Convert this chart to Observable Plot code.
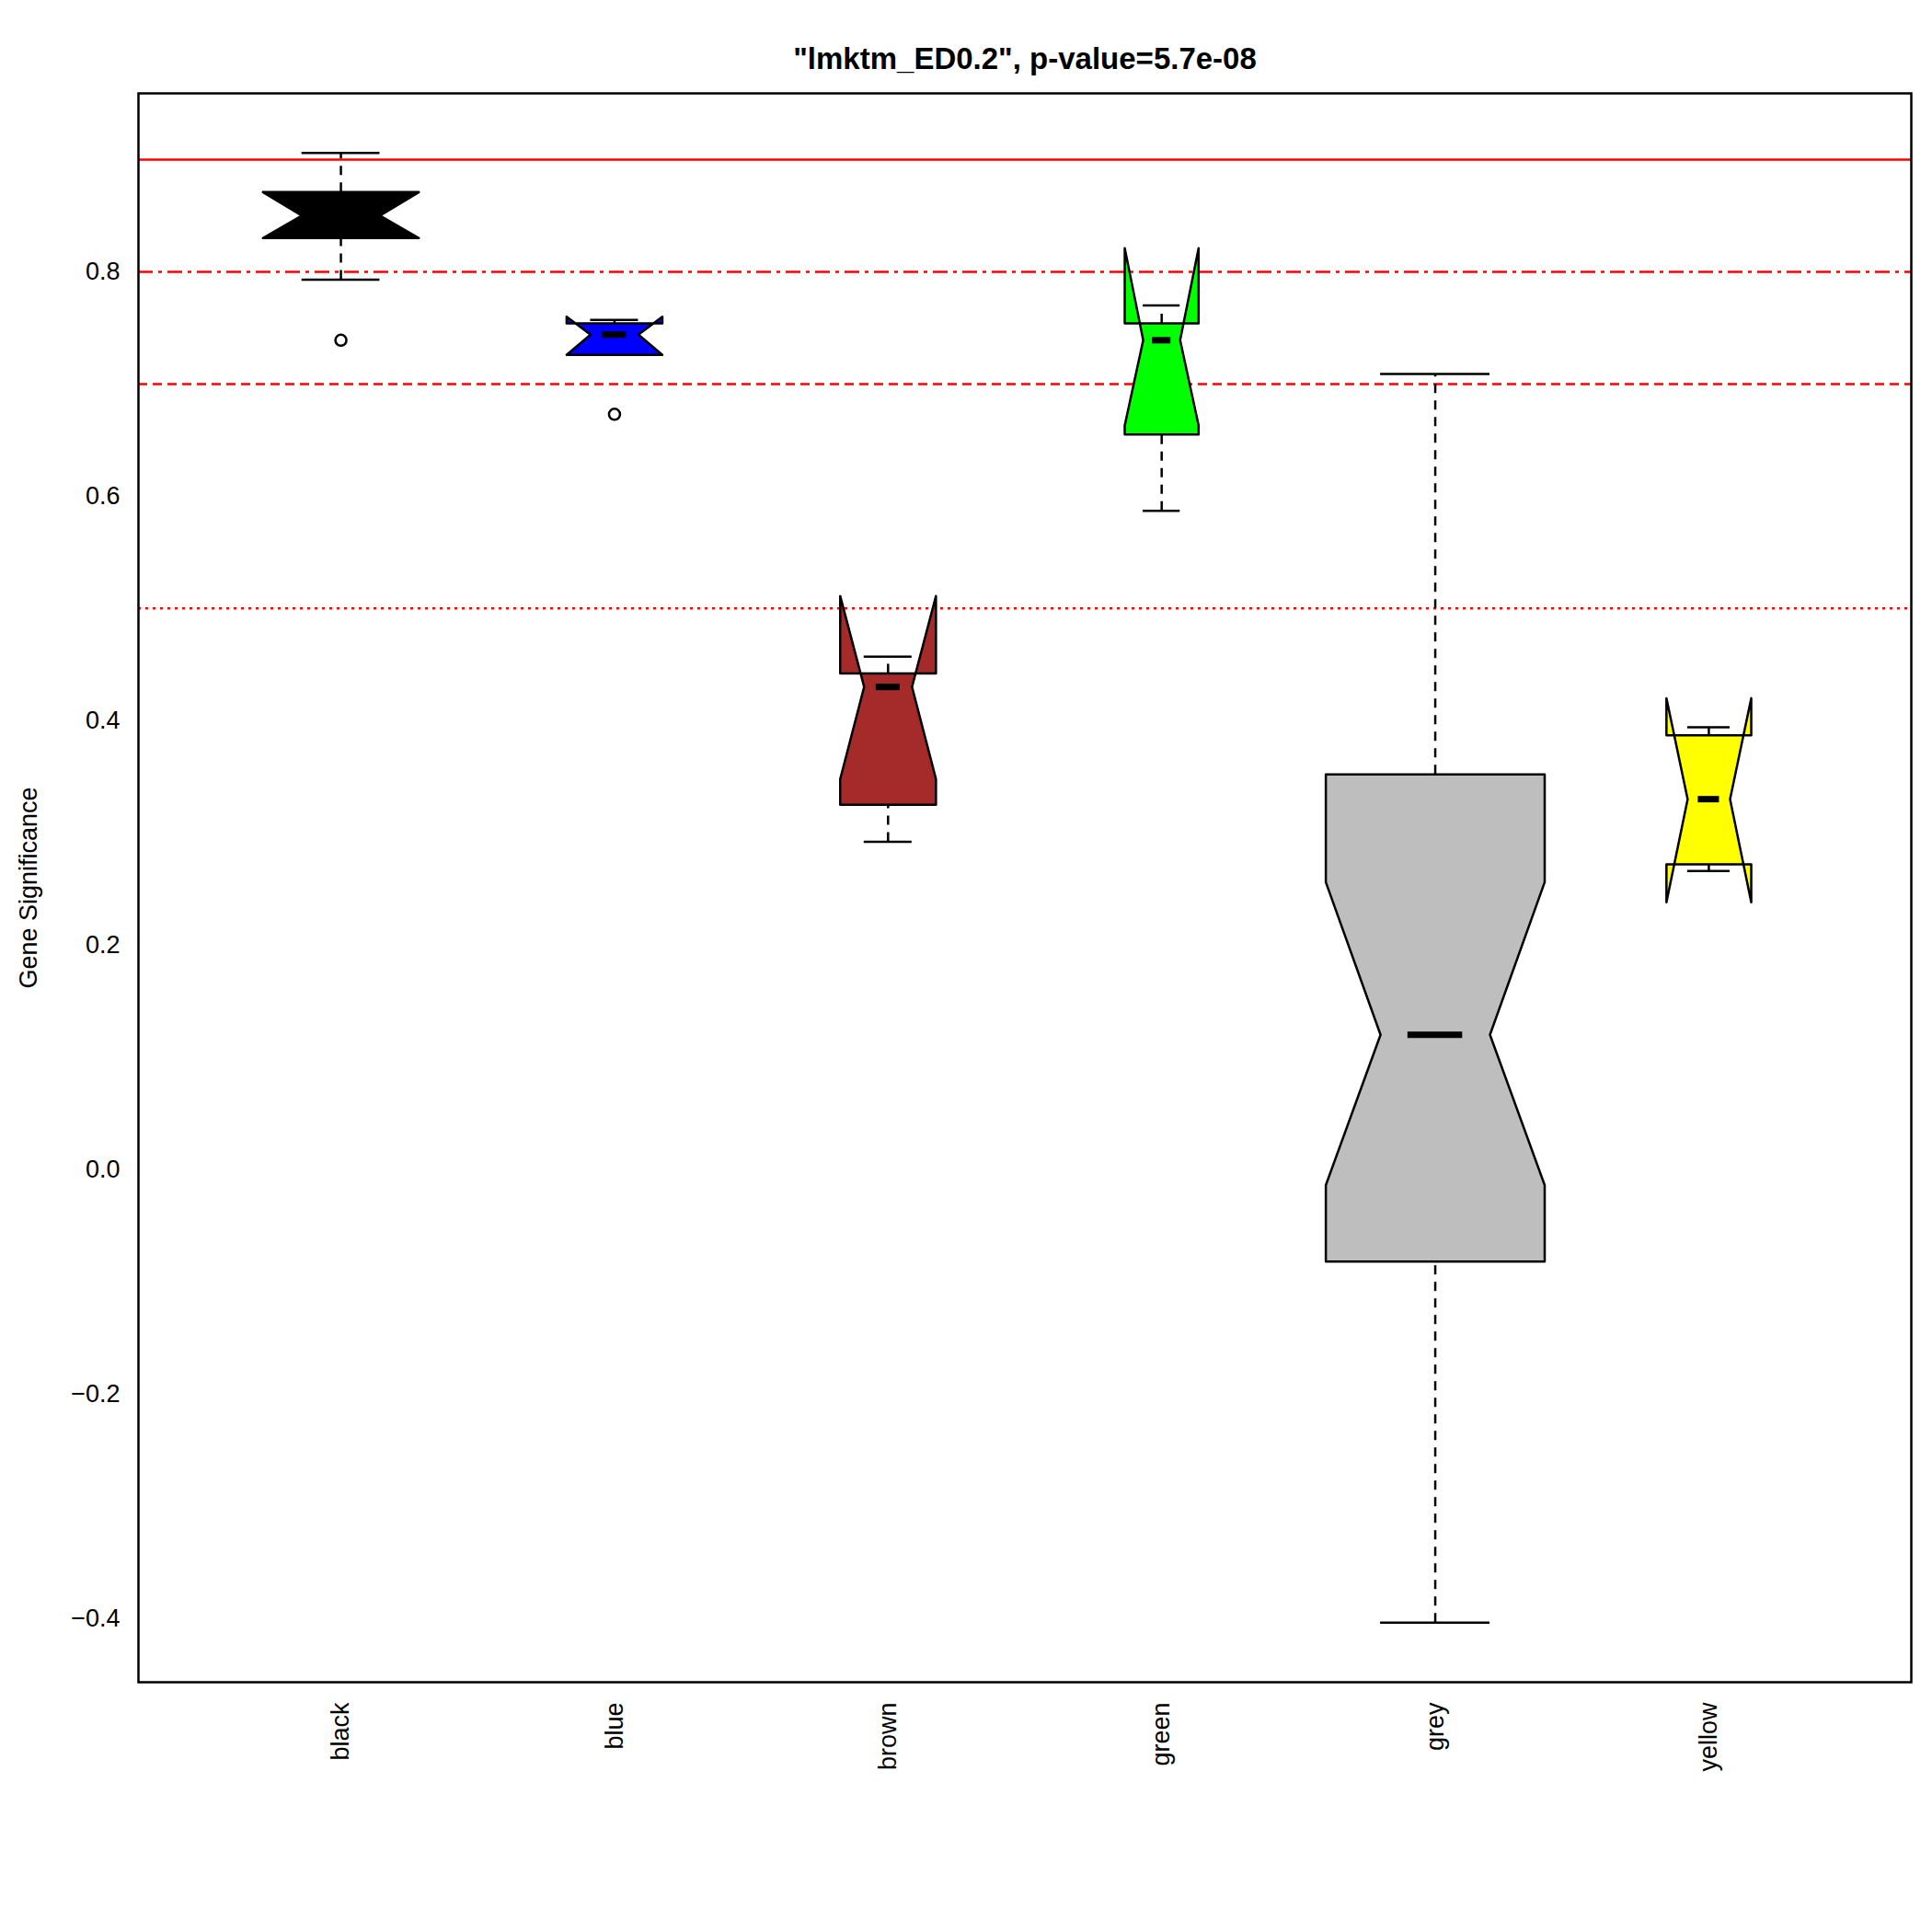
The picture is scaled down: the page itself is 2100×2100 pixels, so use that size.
<!DOCTYPE html>
<html><head><meta charset="utf-8">
<script src="https://cdn.jsdelivr.net/npm/d3@7"></script>
<script src="https://cdn.jsdelivr.net/npm/@observablehq/plot@0.6"></script>
<style>body{margin:0;background:#fff}</style>
</head><body><div id="c"></div>
<script>
const modules = ["black","blue","brown","green","grey","yellow"];
const fills = ["#000000","#0000ff","#a52a2a","#00ff00","#bebebe","#ffff00"];
const whiskerLo = [0.793,0.728,0.292,0.587,-0.404,0.266];
const q1 =        [0.830,0.726,0.325,0.655,-0.082,0.272];
const median =    [0.850,0.744,0.430,0.739,0.120,0.330];
const q3 =        [0.871,0.754,0.442,0.754,0.352,0.387];
const whiskerHi = [0.906,0.757,0.457,0.770,0.709,0.394];
const notchLo =   [0.830,0.726,0.348,0.663,-0.014,0.238];
const notchHi =   [0.871,0.760,0.511,0.821,0.256,0.420];
const boxWidth =  [0.57,0.35,0.35,0.27,0.80,0.31];
const outlierModule = [0,1];
const outlierValue = [0.739,0.673];
const thresholds = [0.9,0.8,0.7,0.5];
const thresholdDash = ["none","16,6,4,6","10,6","3,5"];
const yTicks = [-0.4,-0.2,0,0.2,0.4,0.6,0.8];

const poly = [];
modules.forEach((m,i)=>{
  const c=i+1, h=boxWidth[i]/2, l=c-h, r=c+h, n=h*0.5;
  const pts=[[l,q3[i]],[l,notchHi[i]],[c-n,median[i]],[l,notchLo[i]],[l,q1[i]],
             [r,q1[i]],[r,notchLo[i]],[c+n,median[i]],[r,notchHi[i]],[r,q3[i]],[l,q3[i]]];
  pts.forEach(p=>poly.push({m,x:p[0],y:p[1],f:fills[i]}));
});
const boxes = modules.map((m,i)=>({m,c:i+1,h:boxWidth[i]/2,lo:whiskerLo[i],q1:q1[i],med:median[i],q3:q3[i],hi:whiskerHi[i]}));
const outs = outlierModule.map((k,j)=>({x:k+1,y:outlierValue[j]}));
const th = thresholds.map((v,i)=>({v,d:thresholdDash[i]}));

const chart = Plot.plot({
  width:2100,height:2100,marginTop:101,marginLeft:150,marginRight:23,marginBottom:272,
  style:{fontFamily:"Liberation Sans, Arial, sans-serif",fontSize:"27px",color:"#000"},
  x:{domain:[0.26,6.74],ticks:[1,2,3,4,5,6],tickFormat:d=>modules[d-1],tickRotate:-90,tickSize:0,tickPadding:22,label:null},
  y:{domain:[-0.457,0.959],ticks:yTicks,tickFormat:d3.format(".1f"),tickSize:0,tickPadding:20,label:"Gene Significance",labelAnchor:"center",labelOffset:130,labelArrow:false},
  marks:[
    ...th.map(t=>Plot.ruleY([t.v],{stroke:"red",strokeWidth:2.5,strokeDasharray:t.d})),
    Plot.ruleX(boxes,{x:"c",y1:"q3",y2:"hi",strokeDasharray:"10,8",strokeWidth:2.5}),
    Plot.ruleX(boxes,{x:"c",y1:"lo",y2:"q1",strokeDasharray:"10,8",strokeWidth:2.5}),
    Plot.ruleY(boxes,{y:"hi",x1:d=>d.c-d.h/2,x2:d=>d.c+d.h/2,strokeWidth:2.5}),
    Plot.ruleY(boxes,{y:"lo",x1:d=>d.c-d.h/2,x2:d=>d.c+d.h/2,strokeWidth:2.5}),
    Plot.line(poly,{x:"x",y:"y",z:"m",fill:"f",stroke:"black",strokeWidth:2.5,curve:"linear"}),
    Plot.ruleY(boxes,{y:"med",x1:d=>d.c-d.h/4,x2:d=>d.c+d.h/4,strokeWidth:7}),
    Plot.dot(outs,{x:"x",y:"y",r:6,stroke:"black",strokeWidth:2.5,fill:"white"}),
    Plot.frame({stroke:"black",strokeWidth:2.5}),
    Plot.text(["\"lmktm_ED0.2\", p-value=5.7e-08"],{frameAnchor:"top",dy:-50,fontSize:33,fontWeight:"bold"})
  ]
});
document.getElementById("c").appendChild(chart);
</script></body></html>
